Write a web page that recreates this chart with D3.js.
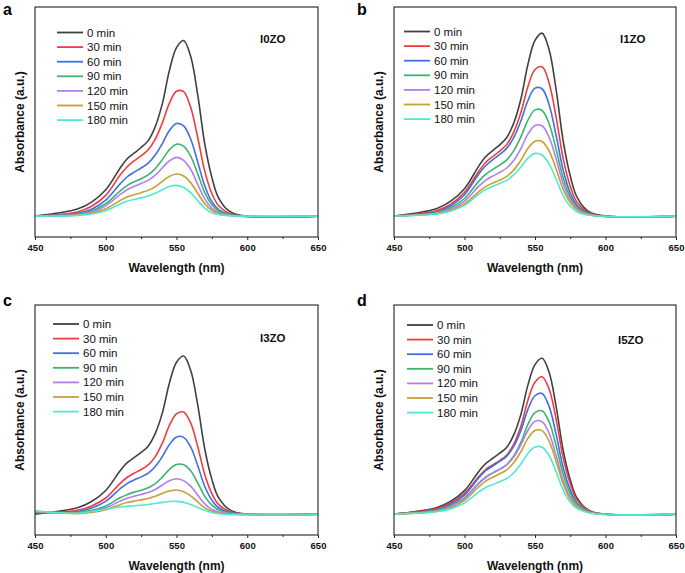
<!DOCTYPE html>
<html><head><meta charset="utf-8">
<script src="https://cdn.jsdelivr.net/npm/d3@7"></script>
<style>body{margin:0;background:#fff}svg{display:block}</style></head>
<body>
<svg id="chart" width="685" height="573"></svg>
<script>
// ---- data ----
const wavelengths = [450,480,490,500,510,515,520,525,530,535,540,545,550,555,560,565,570,575,580,590,650];
const times = ["0 min","30 min","60 min","90 min","120 min","150 min","180 min"];
const colors = ["#404040","#f03c3c","#3d6fe6","#3cb46e","#b47cf0","#c89f32","#50e8d2"];
const xTicks = [450,500,550,600,650];
const xMinorTicks = [475,525,575,625];
const sampleNames = ["I0ZO","I1ZO","I3ZO","I5ZO"];
const panelLetters = ["a","b","c","d"];

const absI0ZO = [
 [0,.034,.067,.126,.228,.273,.301,.328,.361,.428,.538,.697,.806,.840,.764,.580,.344,.185,.084,.014,0],
 [0,.020,.047,.099,.195,.235,.264,.288,.317,.368,.446,.540,.597,.595,.520,.376,.214,.108,.048,.007,0],
 [0,.013,.033,.076,.153,.187,.210,.230,.253,.292,.347,.409,.443,.431,.369,.259,.144,.069,.030,.005,0],
 [0,.010,.026,.059,.119,.146,.164,.179,.197,.227,.270,.318,.344,.335,.287,.202,.112,.054,.023,.004,0],
 [0,.007,.020,.049,.103,.126,.142,.156,.171,.196,.231,.264,.281,.267,.224,.152,.082,.037,.016,.002,0],
 [0,.005,.015,.035,.074,.091,.102,.112,.123,.141,.166,.190,.201,.192,.160,.109,.059,.027,.011,.001,0],
 [0,.003,.010,.026,.057,.071,.079,.087,.096,.109,.126,.141,.147,.137,.112,.074,.038,.016,.007,.001,0]
];
const absI1ZO = [
 [0,.035,.070,.131,.238,.284,.313,.341,.376,.446,.560,.726,.840,.875,.796,.604,.359,.193,.088,.015,0],
 [0,.026,.056,.113,.213,.256,.285,.311,.343,.403,.495,.620,.701,.714,.637,.472,.275,.143,.064,.011,0],
 [0,.020,.048,.102,.200,.241,.270,.295,.325,.377,.456,.553,.612,.609,.533,.385,.219,.110,.049,.008,0],
 [0,.017,.040,.084,.166,.200,.223,.244,.269,.313,.379,.459,.508,.505,.442,.319,.182,.092,.041,.006,0],
 [0,.014,.034,.072,.142,.171,.191,.209,.230,.267,.323,.392,.433,.432,.377,.273,.155,.078,.035,.005,0],
 [0,.012,.028,.059,.116,.141,.158,.172,.190,.221,.267,.324,.358,.357,.312,.225,.128,.065,.029,.004,0],
 [0,.009,.023,.051,.104,.127,.142,.156,.171,.198,.235,.277,.300,.292,.250,.176,.098,.047,.020,.003,0]
];
const absI3ZO = [
 [0,.030,.060,.113,.206,.245,.270,.295,.325,.386,.484,.627,.726,.756,.688,.522,.310,.166,.076,.013,0],
 [.005,.018,.039,.077,.146,.175,.195,.213,.235,.275,.339,.424,.479,.488,.436,.323,.188,.098,.044,.007,0],
 [.010,.012,.029,.061,.120,.146,.163,.178,.196,.228,.275,.333,.369,.367,.321,.232,.132,.067,.029,.005,0],
 [.010,.008,.018,.039,.078,.093,.105,.114,.126,.146,.177,.214,.237,.236,.207,.149,.085,.043,.019,.003,0],
 [.012,.004,.012,.030,.062,.076,.085,.094,.103,.118,.139,.159,.169,.160,.134,.091,.049,.022,.010,.001,0],
 [.015,.002,.008,.021,.045,.055,.062,.068,.075,.085,.099,.110,.115,.107,.087,.058,.030,.013,.005,.001,0],
 [.015,.004,.012,.024,.034,.037,.040,.042,.046,.051,.056,.060,.061,.056,.046,.032,.018,.008,.002,-.003,-.003]
];
const absI5ZO = [
 [0,.030,.060,.112,.203,.241,.267,.291,.320,.380,.477,.618,.715,.745,.678,.514,.305,.164,.075,.013,0],
 [0,.026,.053,.099,.178,.213,.235,.256,.283,.335,.420,.545,.631,.657,.598,.453,.269,.145,.066,.011,0],
 [0,.021,.046,.091,.173,.208,.230,.252,.277,.325,.400,.501,.566,.577,.515,.381,.222,.116,.052,.009,0],
 [0,.018,.039,.078,.147,.177,.197,.215,.237,.279,.343,.429,.485,.494,.441,.327,.190,.099,.045,.008,0],
 [0,.015,.035,.074,.145,.175,.196,.214,.236,.274,.331,.401,.444,.442,.387,.279,.159,.080,.035,.005,0],
 [0,.013,.031,.066,.130,.158,.176,.193,.212,.247,.298,.362,.400,.399,.349,.252,.144,.072,.032,.005,0],
 [0,.011,.025,.053,.105,.127,.141,.155,.170,.198,.240,.290,.321,.320,.280,.202,.115,.058,.026,.004,0]
];
const panelData = [absI0ZO, absI1ZO, absI3ZO, absI5ZO];

// ---- layout ----
const layout = [
 {x0:35, x1:318, y0:7,   y1:237, lx:57,  ly:32.5, lab:[260,42.5], let:[3,15]},
 {x0:394,x1:676, y0:7,   y1:237, lx:404, ly:31.5, lab:[620,42.5], let:[357,15]},
 {x0:35, x1:318, y0:305, y1:535, lx:53,  ly:324,  lab:[260,342],  let:[3,306]},
 {x0:394,x1:676, y0:305, y1:535, lx:407, ly:325,  lab:[618,344],  let:[357,306]}
];

const svg = d3.select("#chart");
const FONT = "'Liberation Sans', Arial, Helvetica, sans-serif";

layout.forEach((L, pi) => {
  const g = svg.append("g");
  const x = d3.scaleLinear().domain([450,650]).range([L.x0, L.x1]);
  const y = d3.scaleLinear().domain([-0.1, 1.0]).range([L.y1, L.y0]);

  const clipId = "clip" + pi;
  svg.append("clipPath").attr("id", clipId).append("rect")
    .attr("x", L.x0).attr("y", L.y0).attr("width", L.x1 - L.x0).attr("height", L.y1 - L.y0);

  const line = d3.line()
    .x((d, i) => x(wavelengths[i]))
    .y(d => y(d))
    .curve(d3.curveCatmullRom.alpha(0.5));

  const cg = g.append("g").attr("clip-path", `url(#${clipId})`);
  panelData[pi].forEach((series, si) => {
    cg.append("path").attr("d", line(series))
      .attr("fill", "none").attr("stroke", colors[si])
      .attr("stroke-width", 1.6).attr("stroke-linejoin", "round");
  });

  // frame
  g.append("rect").attr("x", L.x0).attr("y", L.y0)
    .attr("width", L.x1 - L.x0).attr("height", L.y1 - L.y0)
    .attr("fill", "none").attr("stroke", "#222").attr("stroke-width", 1.1);

  // x axis
  const ax = g.append("g").attr("transform", `translate(0,${L.y1})`)
    .call(d3.axisBottom(x).tickValues(xTicks).tickSize(3).tickPadding(4).tickFormat(d3.format("d")));
  ax.select(".domain").remove();
  ax.selectAll("line").attr("stroke", "#222");
  ax.selectAll("text").attr("font-family", FONT).attr("font-size", "9.5px")
    .attr("font-weight", "bold").attr("fill", "#111");
  const axm = g.append("g").attr("transform", `translate(0,${L.y1})`)
    .call(d3.axisBottom(x).tickValues(xMinorTicks).tickSize(2).tickFormat(""));
  axm.select(".domain").remove();
  axm.selectAll("line").attr("stroke", "#222");

  // axis titles
  g.append("text").attr("x", (L.x0 + L.x1) / 2).attr("y", L.y1 + 35)
    .attr("text-anchor", "middle").attr("font-family", FONT).attr("font-size", "12px")
    .attr("font-weight", "bold").attr("fill", "#111").text("Wavelength (nm)");
  g.append("text")
    .attr("transform", `translate(${L.x0 - 11},${(L.y0 + L.y1) / 2}) rotate(-90)`)
    .attr("text-anchor", "middle").attr("font-family", FONT).attr("font-size", "12px")
    .attr("font-weight", "bold").attr("fill", "#111").text("Absorbance (a.u.)");

  // panel letter
  g.append("text").attr("x", L.let[0]).attr("y", L.let[1])
    .attr("font-family", FONT).attr("font-size", "16px").attr("font-weight", "bold")
    .attr("fill", "#000").text(panelLetters[pi]);

  // sample label
  g.append("text").attr("x", L.lab[0]).attr("y", L.lab[1])
    .attr("font-family", FONT).attr("font-size", "11.5px").attr("font-weight", "bold")
    .attr("fill", "#111").text(sampleNames[pi]);

  // legend
  const lg = g.append("g");
  times.forEach((t, i) => {
    const yy = L.ly + i * 14.6;
    lg.append("line").attr("x1", L.lx).attr("x2", L.lx + 26).attr("y1", yy).attr("y2", yy)
      .attr("stroke", colors[i]).attr("stroke-width", 1.8);
    lg.append("text").attr("x", L.lx + 30).attr("y", yy + 4)
      .attr("font-family", FONT).attr("font-size", "11.5px").attr("fill", "#111").text(t);
  });
});
</script>
</body></html>
